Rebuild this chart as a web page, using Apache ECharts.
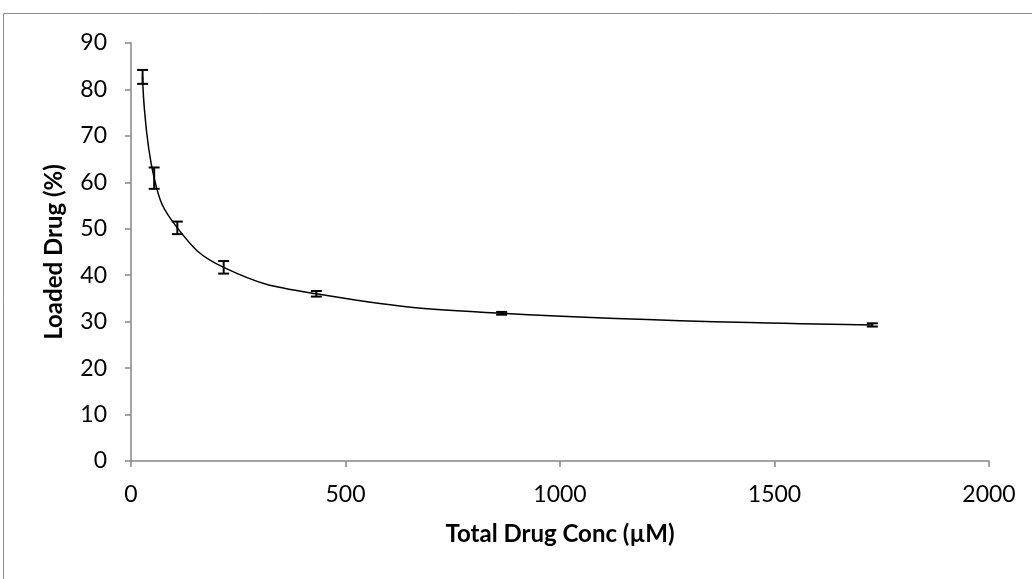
<!DOCTYPE html>
<html>
<head>
<meta charset="utf-8">
<script src="https://cdn.jsdelivr.net/npm/echarts@6/dist/echarts.min.js"></script>
<style>
  html, body { margin: 0; padding: 0; background: #fff; }
  #chart { width: 1032px; height: 579px; }
</style>
</head>
<body>
<div id="chart"></div>
<script>
// Total drug concentration (µM) and loaded fraction (%) with standard deviation
const concentrations = [27, 54, 108, 216, 432, 864, 1728];
const loadedPercent = [82.7, 60.9, 50.2, 41.7, 36.0, 31.8, 29.3];
const loadedError = [1.5, 2.3, 1.35, 1.35, 0.6, 0.3, 0.35];

const xTicks = [0, 500, 1000, 1500, 2000];
const yTicks = [0, 10, 20, 30, 40, 50, 60, 70, 80, 90];

const fontFamily = 'Lato, "Open Sans", sans-serif';
const axisGray = '#868686';

const linePoints = concentrations.map((c, i) => [c, loadedPercent[i]]);
const errorRows = concentrations.map((c, i) => [c, loadedPercent[i] - loadedError[i], loadedPercent[i] + loadedError[i]]);

const chart = echarts.init(document.getElementById('chart'), null, { renderer: 'canvas' });

chart.setOption({
  animation: false,
  backgroundColor: '#fff',
  graphic: [{
    type: 'rect',
    shape: { x: 3.5, y: 13.5, width: 1200, height: 800 },
    style: { fill: 'none', stroke: '#8c8c8c', lineWidth: 1 },
    z: -1
  }],
  grid: { left: 131, right: 43, top: 43, bottom: 118 },
  xAxis: {
    type: 'value',
    min: xTicks[0],
    max: xTicks[xTicks.length - 1],
    interval: 500,
    name: 'Total Drug Conc (µM)',
    nameLocation: 'middle',
    nameGap: 61,
    nameTextStyle: { fontFamily, fontSize: 24, fontWeight: 'bold', color: '#000' },
    axisLine: { show: true, lineStyle: { color: axisGray, width: 1.5 } },
    axisTick: { show: true, inside: false, length: 6, lineStyle: { color: axisGray, width: 1.5 } },
    axisLabel: { fontFamily, fontSize: 23, color: '#000', margin: 22, formatter: v => String(v) },
    splitLine: { show: false }
  },
  yAxis: {
    type: 'value',
    min: yTicks[0],
    max: yTicks[yTicks.length - 1],
    interval: 10,
    name: 'Loaded Drug (%)',
    nameLocation: 'middle',
    nameGap: 65,
    nameRotate: 90,
    nameTextStyle: { fontFamily, fontSize: 24, fontWeight: 'bold', color: '#000' },
    axisLine: { show: true, lineStyle: { color: axisGray, width: 1.5 } },
    axisTick: { show: true, inside: false, length: 6, lineStyle: { color: axisGray, width: 1.5 } },
    axisLabel: { fontFamily, fontSize: 23, color: '#000', margin: 24, formatter: v => String(v) },
    splitLine: { show: false }
  },
  series: [
    {
      type: 'line',
      data: linePoints,
      smooth: 0.45,
      showSymbol: false,
      symbol: 'none',
      lineStyle: { color: '#000', width: 1.5 },
      z: 2
    },
    {
      type: 'custom',
      data: errorRows,
      encode: { x: 0, y: [1, 2] },
      renderItem: function (params, api) {
        const x = api.value(0);
        const low = api.coord([x, api.value(1)]);
        const high = api.coord([x, api.value(2)]);
        const half = 5.5;
        const style = { stroke: '#000', lineWidth: 2 };
        return {
          type: 'group',
          children: [
            { type: 'line', shape: { x1: low[0], y1: low[1], x2: high[0], y2: high[1] }, style },
            { type: 'line', shape: { x1: low[0] - half, y1: low[1], x2: low[0] + half, y2: low[1] }, style },
            { type: 'line', shape: { x1: high[0] - half, y1: high[1], x2: high[0] + half, y2: high[1] }, style }
          ]
        };
      },
      z: 3
    }
  ]
});
</script>
</body>
</html>
